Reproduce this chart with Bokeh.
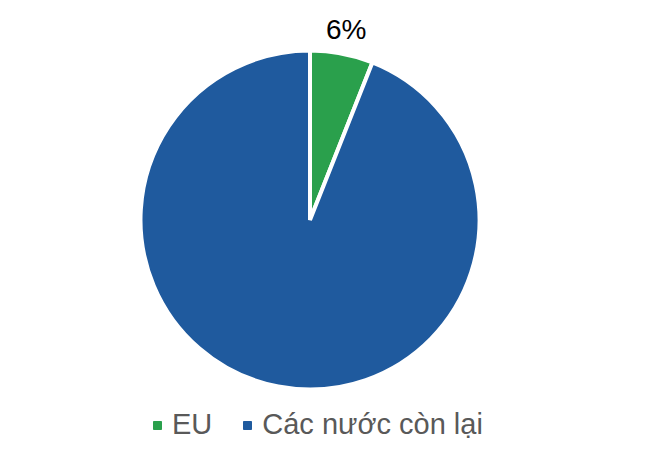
import math
from bokeh.plotting import figure
from bokeh.models import Range1d, Legend, LegendItem, ColumnDataSource
from bokeh.core.properties import value
from bokeh.embed import file_html
from bokeh.resources import INLINE

categories = ["EU", "Các nước còn lại"]
shares = [6, 94]
colors = ["#2AA04C", "#1F5A9E"]

W, H = 644, 450
CX, CY = 309.5, H - 219.5
R = 169.5
FONT = "Liberation Sans"

total = float(sum(shares))
starts, ends = [], []
a = math.pi / 2
for s in shares:
    starts.append(a)
    a -= 2 * math.pi * s / total
    ends.append(a)

src = ColumnDataSource(dict(cat=categories, share=shares, color=colors,
                            start=starts, end=ends))

p = figure(width=W, height=H, output_backend="svg", toolbar_location=None,
           x_range=Range1d(0, W), y_range=Range1d(0, H), min_border=0)
p.axis.visible = False
p.grid.visible = False
p.outline_line_color = None
p.background_fill_color = "white"

p.wedge(x=CX, y=CY, radius=R, start_angle="start", end_angle="end",
        direction="clock", fill_color="color", line_color="white",
        line_width=4, source=src)

# label for EU slice
mid = (starts[0] + ends[0]) / 2
lr = R + 24
p.text(x=[CX + lr * math.cos(mid)], y=[CY + lr * math.sin(mid)],
       text=[f"{shares[0]}%"], text_font=value(FONT), text_font_size="28px",
       text_color="black", text_align="center", text_baseline="middle")

# legend
items = []
for c, col in zip(categories, colors):
    r = p.scatter(x=[CX], y=[CY], marker="square", size=0, fill_color=col,
                  line_color=col)
    items.append(LegendItem(label=c, renderers=[r]))

legend = Legend(items=items, orientation="horizontal", location=(147, 9),
                glyph_width=20, glyph_height=20, label_standoff=5, spacing=25,
                padding=0, margin=0, border_line_color=None,
                background_fill_alpha=0, label_text_font=FONT,
                label_text_font_size="29px", label_text_color="#595959",
                label_height=32)
p.add_layout(legend)

open("out.html", "w").write(file_html(p, INLINE))
